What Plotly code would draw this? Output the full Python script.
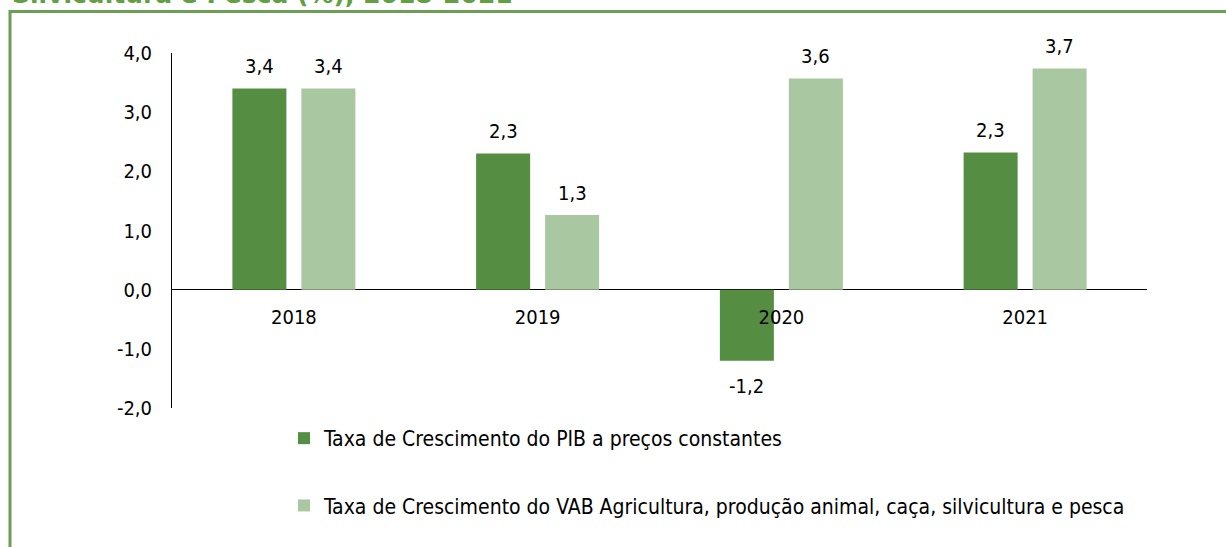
import plotly.graph_objects as go

years = ["2018", "2019", "2020", "2021"]
pib = [3.4, 2.3, -1.2, 2.32]
vab = [3.4, 1.26, 3.57, 3.74]
series_names = [
    "Taxa de Crescimento do PIB a preços constantes",
    "Taxa de Crescimento do VAB Agricultura, produção animal, caça, silvicultura e pesca",
]
y_ticks = [-2, -1, 0, 1, 2, 3, 4]
title_text = "Silvicultura e Pesca (%), 2018-2021"

DARK = "#558E43"
LIGHT = "#A9C7A0"
BORDER = "#6C9E56"
TITLE_C = "#62A043"
FONT = "DejaVu Sans Condensed, Tahoma, DejaVu Sans, sans-serif"
FS = 20

W, H = 1226, 547
ML, MR, MT, MB = 172, 79, 53, 139
plot_w = W - ML - MR
plot_h = H - MT - MB

def fmt(v):
    return f"{v:.1f}".replace(".", ",")

fig = go.Figure()
for name, vals, col, grp in [(series_names[0], pib, DARK, "a"), (series_names[1], vab, LIGHT, "b")]:
    fig.add_trace(go.Bar(x=years, y=vals, name=name, marker=dict(color=col, line=dict(width=0)),
                         legendgroup=grp, offsetgroup=grp))

# data labels (x given as category index)
for vals, sh in [(pib, -34.5), (vab, 34.5)]:
    for i, v in enumerate(vals):
        fig.add_annotation(x=i, y=v, text=fmt(v), showarrow=False, xshift=sh,
                           yshift=22.5 if v >= 0 else -25.5, yanchor="middle",
                           font=dict(family=FONT, size=FS, color="#000000"))

# title (cropped at top)
fig.add_annotation(xref="paper", yref="paper", x=(10 - ML) / plot_w, y=1, xanchor="left", yanchor="bottom",
                   yshift=42, text=f"<b>{title_text}</b>", showarrow=False,
                   font=dict(family="DejaVu Sans, sans-serif", size=25, color=TITLE_C))

# frame border
fig.add_shape(type="rect", xref="paper", yref="paper",
              x0=(10 - ML) / plot_w, x1=1.3, y0=-0.6, y1=(H - MB - 11.5) / plot_h,
              line=dict(color=BORDER, width=3), fillcolor="rgba(0,0,0,0)", layer="below")

yr = [-2, 4]
fig.update_layout(
    width=W, height=H,
    margin=dict(l=ML, r=MR, t=MT, b=MB),
    paper_bgcolor="white", plot_bgcolor="white",
    barmode="group", bargap=0.434, bargroupgap=0.217,
    font=dict(family=FONT, size=FS, color="#000000"),
    showlegend=True,
    legend=dict(x=(284 - ML) / plot_w, y=(H - MB - 418) / plot_h, xanchor="left", yanchor="top",
                orientation="v", tracegroupgap=37, font=dict(family=FONT, size=21),
                bgcolor="rgba(0,0,0,0)"),
    xaxis=dict(type="category", range=[-0.5, len(years) - 0.5], anchor="free",
               position=(0 - yr[0]) / (yr[1] - yr[0]),
               showline=False, ticks="", showgrid=False, zeroline=False,
               ticklabelstandoff=13, tickfont=dict(family=FONT, size=FS)),
    yaxis=dict(range=yr, tickvals=y_ticks, ticktext=[fmt(v) for v in y_ticks],
               showline=True, linecolor="#000000", linewidth=1, ticks="",
               showgrid=False, zeroline=True, zerolinecolor="#000000", zerolinewidth=1,
               ticklabelstandoff=15, tickfont=dict(family=FONT, size=FS)),
)

fig.write_html("out.html", config={"displayModeBar": False},
               post_script="document.body.style.margin='0';")
